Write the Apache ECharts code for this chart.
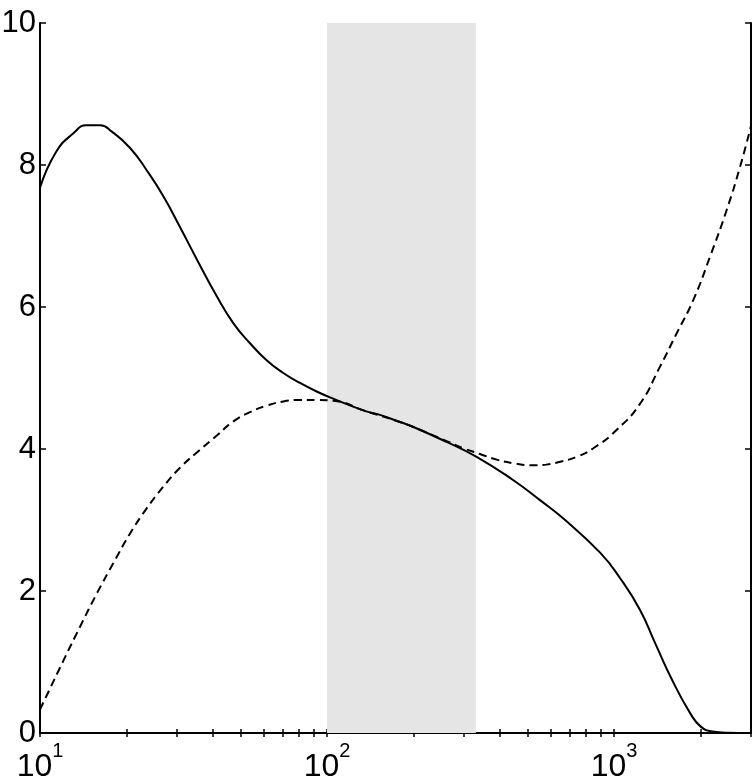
<!DOCTYPE html>
<html>
<head>
<meta charset="utf-8">
<script src="https://cdn.jsdelivr.net/npm/echarts@6/dist/echarts.min.js"></script>
<style>html,body{margin:0;padding:0;background:#fff}#c{width:756px;height:780px}</style>
</head>
<body>
<div id="c"></div>
<script>
// ---- data ----
const solidX = [10, 11.4, 13.1, 14.5, 16.2, 17.8, 20.6, 23.5, 26.9, 30.8, 35.2, 41.3, 47.2, 53.9, 61.6, 70.4, 80.5, 92, 105, 137, 153, 179.6, 200, 261, 332, 446, 552, 666, 894, 1050, 1233, 1389, 1592, 1841, 2005, 2200, 2500, 3000];
const solidY = [7.68, 8.19, 8.45, 8.56, 8.56, 8.47, 8.24, 7.93, 7.56, 7.12, 6.67, 6.15, 5.77, 5.49, 5.25, 5.07, 4.93, 4.81, 4.71, 4.53, 4.48, 4.38, 4.31, 4.10, 3.89, 3.56, 3.28, 3.02, 2.54, 2.18, 1.73, 1.27, 0.75, 0.28, 0.09, 0.02, 0.003, 0];
const dashedX = [10, 12.1, 13.8, 15.8, 18.0, 20.6, 23.5, 26.9, 30.8, 35.2, 41.3, 47.2, 53.9, 61.6, 70.4, 80.5, 92, 105, 137, 179.6, 200, 261, 299, 341, 390, 446, 523, 580, 649, 741, 847, 1022, 1233, 1446, 1653, 1889, 2160, 2470, 2750, 3000];
const dashedY = [0.33, 1.03, 1.50, 1.97, 2.39, 2.81, 3.16, 3.47, 3.74, 3.95, 4.19, 4.39, 4.52, 4.61, 4.67, 4.69, 4.69, 4.68, 4.53, 4.38, 4.31, 4.11, 4.01, 3.93, 3.85, 3.80, 3.77, 3.78, 3.82, 3.89, 4.01, 4.27, 4.64, 5.16, 5.63, 6.10, 6.71, 7.37, 7.98, 8.55];
const shadeRange = [100, 330];
const xMajorTicks = [10, 100, 1000];
const xExponents = ['1', '2', '3'];
const xMinorTicks = [10,20,30,40,50,60,70,80,90,100,200,300,400,500,600,700,800,900,1000,2000,3000];
const yTicks = [0, 2, 4, 6, 8, 10];

const pairs = (xs, ys) => xs.map((x, i) => [x, ys[i]]);
const FONT = '"Liberation Sans", Arial, Helvetica, sans-serif';

const chart = echarts.init(document.getElementById('c'), null, {renderer: 'canvas'});
const axisLine = {show: true, lineStyle: {color: '#000', width: 2}};
const xBase = {type: 'log', logBase: 10, min: 10, max: 3000, splitLine: {show: false}, axisLine: axisLine,
  axisTick: {show: true, inside: true, length: 4, lineStyle: {color: '#000', width: 1.5}, customValues: xMinorTicks}};
const yBase = {type: 'value', min: 0, max: 10, interval: 2, splitLine: {show: false}, axisLine: axisLine,
  axisTick: {show: true, inside: true, length: 6, lineStyle: {color: '#000', width: 1.5}, customValues: yTicks}};

chart.setOption({
  animation: false,
  backgroundColor: '#fff',
  grid: {left: 40, right: 5, top: 23, bottom: 47, containLabel: false, outerBoundsMode: 'none'},
  xAxis: [
    Object.assign({}, xBase, {position: 'bottom',
      axisLabel: {show: true, customValues: xMajorTicks, margin: 8,
        formatter: (v) => { const i = xMajorTicks.indexOf(Math.round(v)); return '{b|10}{s|' + (i >= 0 ? xExponents[i] : '') + '}'; },
        rich: {
          b: {fontSize: 32, fontFamily: FONT, color: '#000', lineHeight: 52, verticalAlign: 'middle'},
          s: {fontSize: 20, fontFamily: FONT, color: '#000', lineHeight: 20, verticalAlign: 'top'}
        }}}),
    Object.assign({}, xBase, {position: 'top', axisLabel: {show: false}})
  ],
  yAxis: [
    Object.assign({}, yBase, {position: 'left',
      axisLabel: {show: true, fontSize: 31, fontFamily: FONT, color: '#000', margin: 4}}),
    Object.assign({}, yBase, {position: 'right', axisLabel: {show: false}})
  ],
  series: [
    {type: 'line', data: [], silent: true, z: 1,
      markArea: {silent: true, itemStyle: {color: '#e5e5e5'}, data: [[{xAxis: shadeRange[0]}, {xAxis: shadeRange[1]}]]}},
    {type: 'line', data: pairs(solidX, solidY), showSymbol: false, smooth: 0.5, z: 3,
      lineStyle: {color: '#000', width: 2}},
    {type: 'line', data: pairs(dashedX, dashedY), showSymbol: false, smooth: 0.5, z: 4,
      lineStyle: {color: '#000', width: 2, type: [8, 5]}}
  ]
});
</script>
</body>
</html>
